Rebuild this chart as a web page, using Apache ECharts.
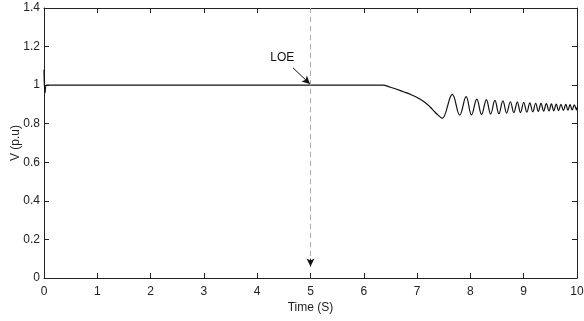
<!DOCTYPE html>
<html>
<head>
<meta charset="utf-8">
<script src="https://cdn.jsdelivr.net/npm/echarts@6/dist/echarts.min.js"></script>
<style>
  html, body { margin: 0; padding: 0; background: #fff; }
  #chart { width: 584px; height: 321px; }
</style>
</head>
<body>
<div id="chart"></div>
<script>
// time (s) and voltage (p.u)
const timeS = [
  0, 0.02, 0.05, 2.5, 5, 6.0, 6.35, 6.5, 6.74, 6.9, 7.05, 7.15, 7.24, 7.33, 7.40, 7.47,
  7.66, 7.80, 7.92, 8.02, 8.12, 8.21, 8.30, 8.38, 8.46, 8.535,
  8.61, 8.68, 8.75, 8.815, 8.88, 8.94, 9.00, 9.06, 9.115, 9.17,
  9.225, 9.275, 9.325, 9.375, 9.425, 9.475, 9.52, 9.565, 9.61, 9.655,
  9.70, 9.745, 9.79, 9.83, 9.87, 9.91, 9.95, 9.99, 10.0
]
const voltPU = [
  1.08, 0.96, 1.0, 1.0, 1.0, 1.0, 1.0, 0.989, 0.966, 0.949, 0.928, 0.910, 0.888, 0.862, 0.843, 0.828,
  0.952, 0.845, 0.940, 0.846, 0.928, 0.848, 0.925, 0.850, 0.921, 0.852,
  0.918, 0.855, 0.914, 0.857, 0.912, 0.858, 0.910, 0.860, 0.908, 0.862,
  0.906, 0.864, 0.905, 0.865, 0.904, 0.866, 0.903, 0.867, 0.902, 0.868,
  0.901, 0.869, 0.900, 0.870, 0.899, 0.871, 0.898, 0.872, 0.885
]
const eventTime = 5
const eventLabel = 'LOE'

const font = "'Liberation Sans Narrow', 'Liberation Sans', Arial, sans-serif"
const myChart = echarts.init(document.getElementById('chart'))

const axisCommon = {
  axisLine: { show: true, onZero: false, lineStyle: { color: '#222', width: 1 } },
  axisTick: { show: true, inside: true, length: 5, lineStyle: { color: '#222' } },
  splitLine: { show: false },
}

const option = {
  animation: false,
  grid: { left: 44, right: 7, top: 8, bottom: 43, containLabel: false, outerBoundsMode: 'none' },
  xAxis: [{
    ...axisCommon,
    type: 'value',
    min: 0, max: 10, interval: 1,
    name: 'Time (S)',
    nameLocation: 'middle',
    nameGap: 24,
    nameMoveOverlap: false,
    nameTextStyle: { fontFamily: font, fontSize: 12, color: '#222' },
    axisLabel: { margin: 8, fontFamily: font, fontSize: 12, color: '#222' },
  }, {
    ...axisCommon,
    type: 'value', position: 'top',
    min: 0, max: 10, interval: 1,
    axisLabel: { show: false },
  }],
  yAxis: [{
    ...axisCommon,
    type: 'value',
    min: 0, max: 1.4, interval: 0.2,
    name: 'V (p.u)',
    nameLocation: 'middle',
    nameGap: 22,
    nameMoveOverlap: false,
    nameTextStyle: { fontFamily: font, fontSize: 12, color: '#222' },
    axisLabel: { margin: 4, fontFamily: font, fontSize: 12, color: '#222' },
  }, {
    ...axisCommon,
    type: 'value', position: 'right',
    min: 0, max: 1.4, interval: 0.2,
    axisLabel: { show: false },
  }],
  series: [{
    type: 'line',
    data: timeS.map((t, i) => [t, voltPU[i]]),
    showSymbol: false,
    smooth: 0.4,
    lineStyle: { color: '#111', width: 1.2 },
    markLine: {
      silent: true,
      animation: false,
      label: { show: false },
      data: [
        [{ coord: [eventTime, 1.4], symbol: 'none', lineStyle: { color: '#aaa', type: [5, 4], width: 1 } },
         { coord: [eventTime, 0.09], symbol: 'none' }],
        [{ coord: [eventTime, 0.1], symbol: 'none', lineStyle: { color: '#111', type: 'solid', width: 1 } },
         { coord: [eventTime, 0.06], symbol: 'arrow', symbolSize: [6, 8] }],
        [{ coord: [4.67, 1.09], symbol: 'none', lineStyle: { color: '#111', type: 'solid', width: 1 } },
         { coord: [4.99, 1.006], symbol: 'arrow', symbolSize: [6, 8] }],
      ],
    },
    markPoint: {
      silent: true,
      symbol: 'circle',
      symbolSize: 0,
      data: [{ coord: [4.47, 1.14] }],
      label: {
        show: true, position: 'inside', formatter: eventLabel,
        fontFamily: font, fontSize: 12, color: '#111'
      },
    },
  }],
}

myChart.setOption(option)
</script>
</body>
</html>
